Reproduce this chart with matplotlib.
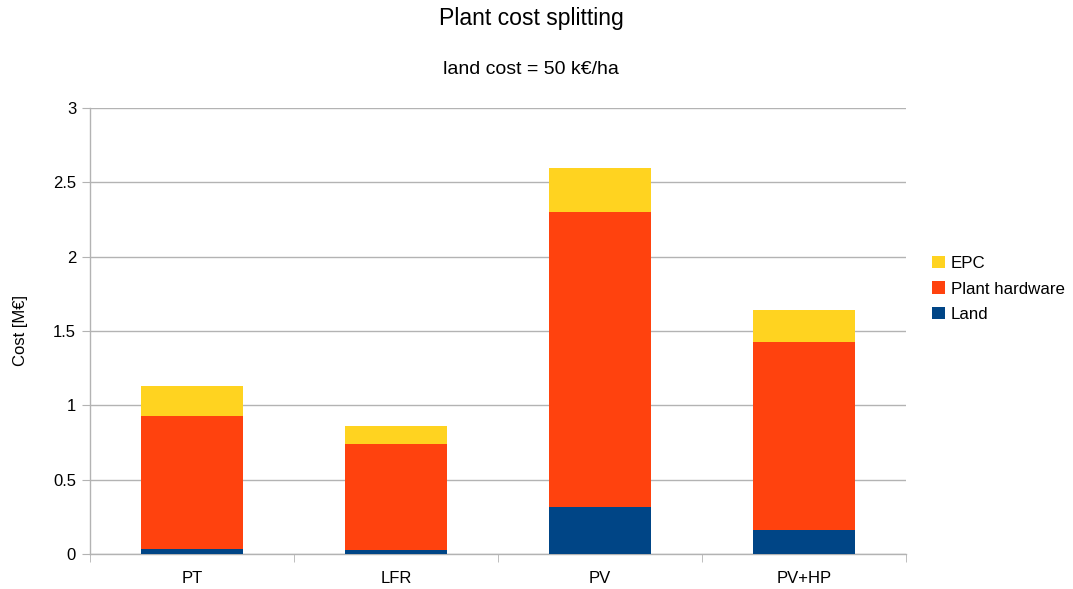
import numpy as np
import matplotlib.pyplot as plt

plt.rcParams['font.family'] = ['Liberation Sans', 'DejaVu Sans']

# cost split per technology [M€]
techs = ['PT', 'LFR', 'PV', 'PV+HP']
land = [0.035, 0.03, 0.315, 0.16]
hardware = [0.89, 0.713, 1.984, 1.264]
epc = [0.203, 0.121, 0.30, 0.214]

c_land = '#004586'
c_hw = '#ff420e'
c_epc = '#ffd320'
grey = '#b3b3b3'

fig = plt.figure(figsize=(10.73, 5.89), dpi=100)
ax = fig.add_axes([90/1073, 35/589, 816/1073, 446/589])

x = np.arange(len(techs))
w = 0.5
base2 = np.array(land)
base3 = base2 + np.array(hardware)
ax.bar(x, land, w, color=c_land, label='Land', zorder=3)
ax.bar(x, hardware, w, bottom=base2, color=c_hw, label='Plant hardware', zorder=3)
ax.bar(x, epc, w, bottom=base3, color=c_epc, label='EPC', zorder=3)

ax.set_xlim(-0.5, len(techs) - 0.5)
ax.set_ylim(0, 3)
ax.set_yticks(np.arange(0, 3.01, 0.5))
ax.set_yticklabels(['0', '0.5', '1', '1.5', '2', '2.5', '3'])
ax.set_xticks(x)
ax.set_xticklabels(techs)
# category separators as bottom ticks
ax.set_xticks(np.arange(-0.5, len(techs)), minor=True)
ax.tick_params(axis='x', which='major', length=0, pad=12, labelsize=12)
ax.tick_params(axis='x', which='minor', length=6, color=grey)
ax.tick_params(axis='y', length=6, color=grey, labelsize=12, pad=4)

ax.grid(axis='y', color=grey, lw=1, zorder=0)
for s in ['top', 'right']:
    ax.spines[s].set_visible(False)
for s in ['left', 'bottom']:
    ax.spines[s].set_color(grey)
    ax.spines[s].set_linewidth(1)

ax.set_ylabel('Cost [M€]', fontsize=12, labelpad=18)

fig.text(531/1073, 1 - 18/589, 'Plant cost splitting', ha='center', va='center', fontsize=16.6)
fig.text(531/1073, 1 - 70/589, 'land cost = 50 k€/ha', ha='center', va='center', fontsize=14)

h, l = ax.get_legend_handles_labels()
ax.legend(h[::-1], l[::-1], loc='center left', bbox_to_anchor=(917/1073, 1 - 289/589),
          bbox_transform=fig.transFigure, frameon=False, fontsize=12.2,
          handlelength=0.75, handleheight=0.75, handletextpad=0.35, labelspacing=0.62)

fig.savefig('out.png', dpi=100)
